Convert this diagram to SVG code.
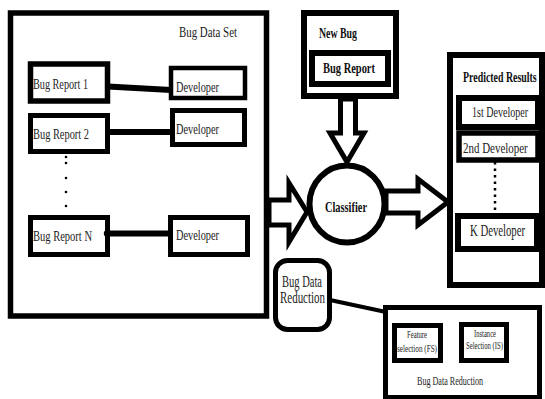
<svg xmlns="http://www.w3.org/2000/svg" width="545" height="399" viewBox="0 0 545 399">
<style>
.box{fill:#fff;stroke:#000;stroke-width:5}
.t{font-family:"Liberation Serif","Times New Roman",serif;font-size:15px;fill:#222}
.b{font-family:"Liberation Serif","Times New Roman",serif;font-size:15px;font-weight:bold;fill:#111}
.s{font-family:"Liberation Serif","Times New Roman",serif;font-size:10px;fill:#222}
.arr{fill:#fff;stroke:#000;stroke-width:5;stroke-linejoin:miter}
.ln{stroke:#000;stroke-width:6;fill:none}
</style>
<rect width="545" height="399" fill="#fff"/>
<g id="bug-data-set">
<rect class="box" x="10.5" y="13" width="256" height="303" style="stroke-width:5.5"/>
<text class="t" x="179" y="37" textLength="58" lengthAdjust="spacingAndGlyphs">Bug Data Set</text>
</g>
<g id="bug-report-1">
<rect class="box" x="30.5" y="64" width="77" height="37" style="stroke-width:5.5"/>
<text class="t" x="33" y="89" textLength="55" lengthAdjust="spacingAndGlyphs">Bug Report 1</text>
</g>
<g id="developer-1">
<rect class="box" x="171" y="68" width="74" height="30" style="stroke-width:4.5"/>
<text class="t" x="176" y="92" textLength="43" lengthAdjust="spacingAndGlyphs">Developer</text>
</g>
<g id="bug-report-2">
<rect class="box" x="30.5" y="115.5" width="77" height="36"/>
<text class="t" x="33" y="139" textLength="56" lengthAdjust="spacingAndGlyphs">Bug Report 2</text>
</g>
<g id="developer-2">
<rect class="box" x="172.5" y="110.5" width="72" height="34"/>
<text class="t" x="176" y="134" textLength="43" lengthAdjust="spacingAndGlyphs">Developer</text>
</g>
<g id="dots-left" fill="#000">
<circle cx="66" cy="157" r="1.3"/>
<circle cx="66" cy="163" r="1.3"/>
<circle cx="66" cy="178" r="1.3"/>
<circle cx="66" cy="192" r="1.3"/>
<circle cx="66" cy="206" r="1.3"/>
</g>
<g id="bug-report-n">
<rect class="box" x="30.5" y="217.5" width="77" height="37"/>
<text class="t" x="33" y="241" textLength="59" lengthAdjust="spacingAndGlyphs">Bug Report N</text>
</g>
<g id="developer-n">
<rect class="box" x="170.5" y="217.5" width="77" height="37"/>
<text class="t" x="176" y="240" textLength="43" lengthAdjust="spacingAndGlyphs">Developer</text>
</g>
<g id="new-bug">
<rect class="box" x="304" y="13" width="92" height="83" style="stroke-width:6"/>
<text class="b" x="319" y="38" textLength="38" lengthAdjust="spacingAndGlyphs">New Bug</text>
<rect class="box" x="312" y="53" width="76" height="31" style="stroke-width:6"/>
<text class="b" x="323" y="73" textLength="52" lengthAdjust="spacingAndGlyphs">Bug Report</text>
</g>
<g id="classifier">
<ellipse cx="347" cy="204" rx="37.5" ry="38.5" fill="#fff" stroke="#000" stroke-width="6"/>
<text class="b" x="325" y="212" textLength="42" lengthAdjust="spacingAndGlyphs">Classifier</text>
</g>
<g id="predicted-results">
<rect class="box" x="450" y="55" width="92" height="230" style="stroke-width:6"/>
<text class="b" transform="translate(463,82) scale(0.66,1)">Predicted Results</text>
</g>
<g id="first-developer">
<rect class="box" x="459" y="98" width="79" height="29" style="stroke-width:6"/>
<text class="t" transform="translate(472,117) scale(0.67,1)">1st Developer</text>
</g>
<g id="second-developer">
<rect class="box" x="459" y="133" width="79" height="27" style="stroke-width:5.5"/>
<text class="t" transform="translate(463,153) scale(0.73,1)">2nd Developer</text>
</g>
<g id="k-developer">
<rect class="box" x="458" y="216" width="79" height="33" style="stroke-width:6"/>
<text class="t" transform="translate(470,236) scale(0.67,1)" style="font-size:16px">K Developer</text>
</g>
<g id="bug-data-reduction-node">
<rect class="box" x="275.5" y="260.5" width="54" height="69" rx="12"/>
<text class="t" x="282" y="287" textLength="40" lengthAdjust="spacingAndGlyphs" style="font-size:16px">Bug Data</text>
<text class="t" x="280" y="303" textLength="45" lengthAdjust="spacingAndGlyphs" style="font-size:16px">Reduction</text>
</g>
<g id="bug-data-reduction-box">
<rect class="box" x="385.5" y="307.5" width="154" height="90"/>
<text class="t" x="417" y="385" textLength="66" lengthAdjust="spacingAndGlyphs" style="font-size:13px">Bug Data Reduction</text>
</g>
<g id="feature-selection">
<rect class="box" x="394.5" y="325.5" width="46" height="35"/>
<text class="s" x="407" y="338" textLength="20" lengthAdjust="spacingAndGlyphs">Feature</text>
<text class="s" x="397" y="352" textLength="40" lengthAdjust="spacingAndGlyphs">selection (FS)</text>
</g>
<g id="instance-selection">
<rect class="box" x="461.5" y="324.5" width="45" height="36"/>
<text class="s" x="474" y="337" textLength="22" lengthAdjust="spacingAndGlyphs">Instance</text>
<text class="s" x="466" y="349" textLength="37" lengthAdjust="spacingAndGlyphs">Selection (IS)</text>
</g>
<g id="connectors">
<line class="ln" x1="108" y1="86.5" x2="171" y2="90"/>
<line class="ln" x1="108" y1="132" x2="172" y2="132"/>
<line class="ln" x1="108" y1="233.5" x2="170" y2="233.5"/>
<circle cx="107" cy="233.5" r="3.2" fill="#000"/>
<line x1="495" y1="162" x2="495" y2="213" stroke="#000" stroke-width="2.5" stroke-dasharray="2.5,4"/>
<line x1="330" y1="300" x2="386" y2="312" stroke="#000" stroke-width="4"/>
<polygon class="arr" points="269,200 289,200 289,183 307,212 289,242 289,225 269,225"/>
<polygon class="arr" points="386,191 418,191 418,179 448,202 418,225 418,213 386,213"/>
<polygon class="arr" points="340.5,99 355.5,99 355.5,133 364,133 347,162 330,133 340.5,133"/>
</g>
</svg>
